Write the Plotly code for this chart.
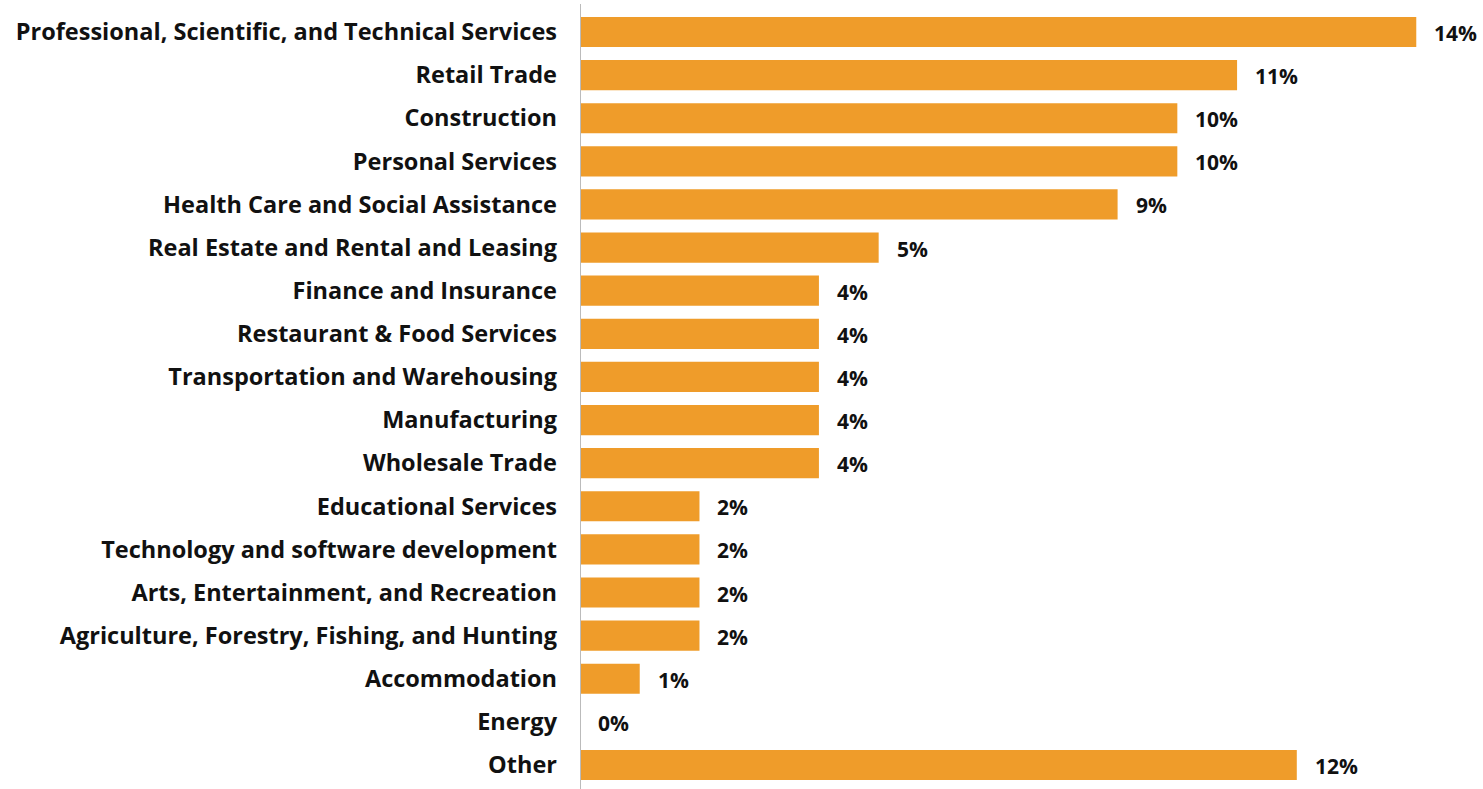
import plotly.graph_objects as go

categories = [
    "Professional, Scientific, and Technical Services",
    "Retail Trade",
    "Construction",
    "Personal Services",
    "Health Care and Social Assistance",
    "Real Estate and Rental and Leasing",
    "Finance and Insurance",
    "Restaurant & Food Services",
    "Transportation and Warehousing",
    "Manufacturing",
    "Wholesale Trade",
    "Educational Services",
    "Technology and software development",
    "Arts, Entertainment, and Recreation",
    "Agriculture, Forestry, Fishing, and Hunting",
    "Accommodation",
    "Energy",
    "Other",
]
values = [14, 11, 10, 10, 9, 5, 4, 4, 4, 4, 4, 2, 2, 2, 2, 1, 0, 12]
labels = [f"{v}%" for v in values]

BAR = "#EF9C2A"
FONT = "Open Sans"

fig = go.Figure(go.Bar(
    x=values, y=categories, orientation="h",
    marker=dict(color=BAR, line=dict(width=0)),
    width=0.7,
    hoverinfo="skip",
))

for c, v, t in zip(categories, values, labels):
    fig.add_annotation(x=v, y=c, text=t, showarrow=False, xanchor="left",
                       xshift=16, yshift=-1,
                       font=dict(family=FONT, size=21, color="#111111", weight="bold"))

n = len(categories)
fig.update_layout(
    width=1483, height=789,
    margin=dict(l=580, r=7, t=4, b=0),
    plot_bgcolor="white", paper_bgcolor="white",
    showlegend=False,
    bargap=0.3,
    xaxis=dict(range=[0, 15], showgrid=False, zeroline=False, showticklabels=False,
               showline=False, fixedrange=True),
    yaxis=dict(range=[n - 1 + 0.557, -0.649], showgrid=False, zeroline=False,
               showline=False, ticks="", ticklabelstandoff=22,
               tickfont=dict(family=FONT, size=23.5, color="#111111", weight=700),
               fixedrange=True),
)
fig.add_shape(type="line", xref="x", yref="paper", x0=0, x1=0, y0=0, y1=1,
              line=dict(color="#BBBBBB", width=2), layer="above")

fig.write_html("out.html", config={"displayModeBar": False},
               post_script="document.body.style.margin='0';document.body.style.overflow='hidden';")
